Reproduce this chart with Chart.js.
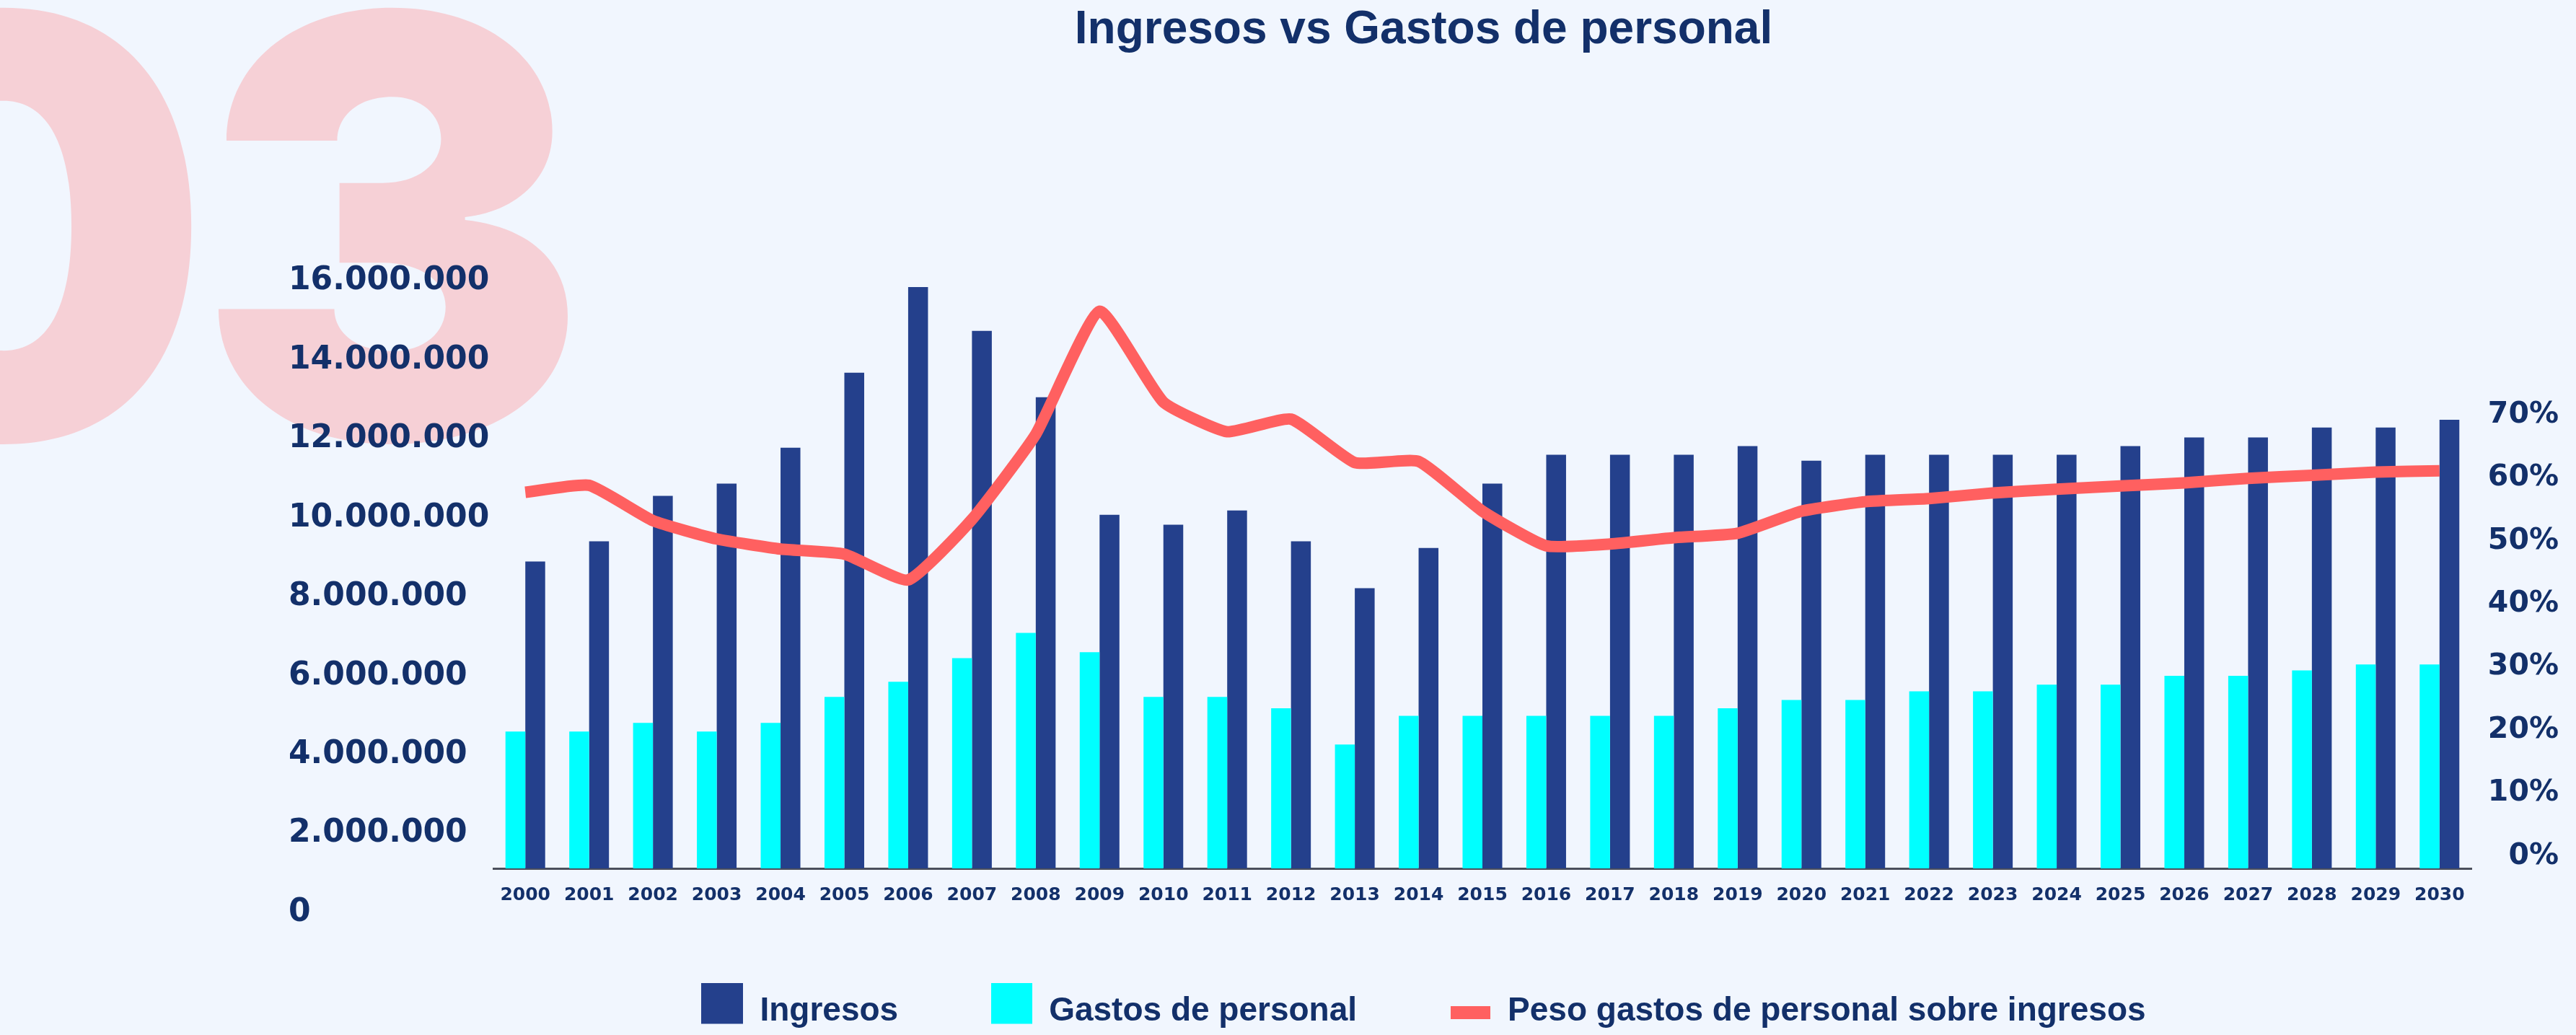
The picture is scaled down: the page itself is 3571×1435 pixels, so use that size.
<!DOCTYPE html>
<html lang="es">
<head>
<meta charset="utf-8">
<title>Ingresos vs Gastos de personal</title>
<script src="https://cdn.jsdelivr.net/npm/chart.js@4.4.1/dist/chart.umd.min.js"></script>
<style>
  html, body { margin: 0; padding: 0; background: #f1f6fe; overflow: hidden; }
  #wrap { position: relative; width: 3571px; height: 1435px; }
  #wm {
    position: absolute; left: -283px; top: -92px;
    font-family: Inter, "DejaVu Sans", sans-serif; font-weight: 900;
    font-size: 810px; line-height: 1; letter-spacing: -20px;
    color: #f6d0d6; white-space: nowrap; z-index: 0;
  }
  #c { position: absolute; left: 0; top: 0; z-index: 1; }
</style>
</head>
<body>
<div id="wrap">
  <div id="wm">03</div>
  <canvas id="c" width="3571" height="1435"></canvas>
</div>
<script>
// ---------- data ----------
const years = ['2000','2001','2002','2003','2004','2005','2006','2007','2008','2009','2010',
  '2011','2012','2013','2014','2015','2016','2017','2018','2019','2020',
  '2021','2022','2023','2024','2025','2026','2027','2028','2029','2030'];

const ingresos = [8900000, 9410000, 10560000, 10870000, 11780000, 13680000, 15850000, 14740000,
  13060000, 10080000, 9830000, 10190000, 9410000, 8220000, 9240000, 10870000, 11600000,
  11600000, 11600000, 11820000, 11450000, 11600000, 11600000, 11600000, 11600000, 11820000,
  12040000, 12040000, 12290000, 12290000, 12490000];

const gastosPersonal = [4590000, 4590000, 4810000, 4590000, 4810000, 5470000, 5850000, 6450000,
  7090000, 6600000, 5470000, 5470000, 5180000, 4260000, 4990000, 4990000, 4990000, 4990000,
  4990000, 5180000, 5390000, 5390000, 5610000, 5610000, 5780000, 5780000, 6000000, 6000000,
  6140000, 6290000, 6290000];

const pesoGastos = [57.7, 58.8, 53.2, 50.3, 48.7, 47.9, 43.8, 53.4, 66.9, 86.4, 72.0, 67.3, 69.3,
  62.4, 62.6, 54.7, 49.2, 49.5, 50.5, 51.2, 54.7, 56.2, 56.7, 57.6, 58.2, 58.7, 59.2, 59.9,
  60.4, 60.9, 61.1];

const leftTicks = [0, 2000000, 4000000, 6000000, 8000000, 10000000, 12000000, 14000000, 16000000];
const rightTicks = [0, 10, 20, 30, 40, 50, 60, 70];

const seriesNames = ['Ingresos', 'Gastos de personal', 'Peso gastos de personal sobre ingresos'];
const chartTitle = 'Ingresos vs Gastos de personal';

// ---------- styles ----------
const NAVY = '#13306a';
const BLUE = '#24408c';
const CYAN = '#00ffff';
const RED = '#ff6060';

function fmtThousands(n) {
  return String(Math.round(n)).replace(/\B(?=(\d{3})+(?!\d))/g, '.');
}

function swatch(w, h, color, shiftY) {
  const c = document.createElement('canvas');
  c.width = w;
  c.height = h + 2 * Math.abs(shiftY);
  const g = c.getContext('2d');
  g.fillStyle = color;
  g.fillRect(0, shiftY < 0 ? 0 : 2 * shiftY, w, h);
  return c;
}
const swatches = [swatch(58, 57, BLUE, -11), swatch(57, 57, CYAN, -11), swatch(55, 18, RED, 2)];

const ctx = document.getElementById('c').getContext('2d');
new Chart(ctx, {
  data: {
    labels: years,
    datasets: [
      {
        type: 'bar', label: seriesNames[0], data: ingresos, yAxisID: 'yL',
        backgroundColor: BLUE, categoryPercentage: 0.622, barPercentage: 1.0, order: 2
      },
      {
        type: 'bar', label: seriesNames[1], data: gastosPersonal, yAxisID: 'yL',
        backgroundColor: CYAN, categoryPercentage: 0.622, barPercentage: 1.0, order: 1
      },
      {
        type: 'line', label: seriesNames[2], data: pesoGastos, yAxisID: 'yR',
        borderColor: RED, backgroundColor: RED, borderWidth: 16, tension: 0.15,
        pointRadius: 0, pointHoverRadius: 0, fill: false, order: 0
      }
    ]
  },
  options: {
    responsive: false,
    devicePixelRatio: 1,
    animation: false,
    events: [],
    layout: { padding: { left: 400, right: 24, top: 0, bottom: 0 } },
    scales: {
      x: {
        grid: { display: false, drawTicks: false },
        border: { display: true, color: '#4b4f5c', width: 3 },
        ticks: {
          color: NAVY, padding: 22, maxRotation: 0, autoSkip: false,
          font: { family: 'DejaVu Sans', weight: 'bold', size: 25 }
        },
        afterFit(scale) { scale.height = 47; }
      },
      yL: {
        type: 'linear', position: 'left',
        min: 1124000, max: 16179000,
        grid: { display: false, drawTicks: false },
        border: { display: false },
        afterBuildTicks(axis) { axis.ticks = leftTicks.map(v => ({ value: v })); },
        afterFit(scale) { scale.width = 284; },
        ticks: {
          color: NAVY, crossAlign: 'far', autoSkip: false,
          font: { family: 'DejaVu Sans', weight: 'bold', size: 44 },
          callback: (v) => fmtThousands(v)
        }
      },
      yR: {
        type: 'linear', position: 'right',
        min: -1.94, max: 92.3,
        grid: { display: false, drawTicks: false },
        border: { display: false },
        afterBuildTicks(axis) { axis.ticks = rightTicks.map(v => ({ value: v })); },
        afterFit(scale) { scale.width = 121; },
        ticks: {
          color: NAVY, crossAlign: 'far', autoSkip: false,
          font: { family: 'DejaVu Sans', weight: 'bold', size: 41 },
          callback: (v) => v + '%'
        }
      }
    },
    plugins: {
      tooltip: { enabled: false },
      title: {
        display: true, text: chartTitle, color: NAVY,
        font: { family: 'Liberation Sans', weight: 'bold', size: 64 },
        padding: { top: 4, bottom: 299.2 }
      },
      legend: {
        display: true, position: 'bottom', align: 'center',
        labels: {
          color: NAVY, padding: 128, usePointStyle: true, pointStyleWidth: 58,
          font: { family: 'Liberation Sans', weight: 'bold', size: 46 },
          sort: (a, b) => a.datasetIndex - b.datasetIndex,
          generateLabels(chart) {
            const items = Chart.defaults.plugins.legend.labels.generateLabels(chart);
            items.forEach(it => { it.pointStyle = swatches[it.datasetIndex]; it.fontColor = NAVY; });
            return items;
          }
        }
      }
    }
  }
});
</script>
</body>
</html>
